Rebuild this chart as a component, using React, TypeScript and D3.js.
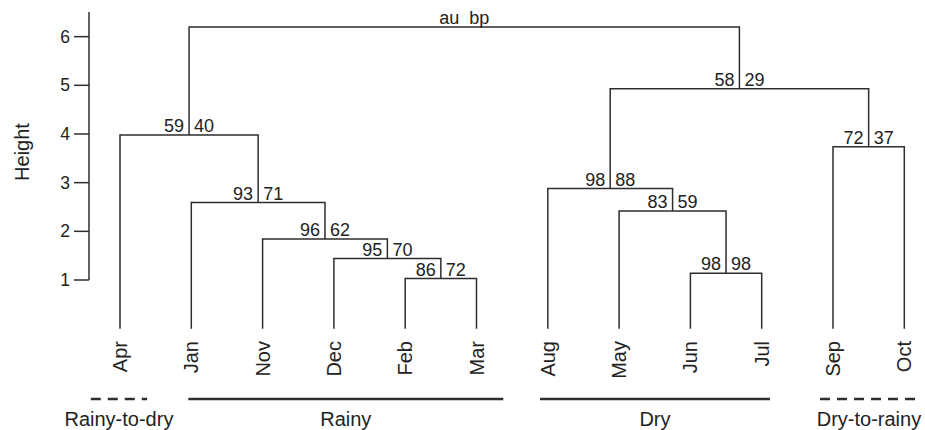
import React from "react";
import * as d3 from "d3";

// Leaves in dendrogram order
const leaves = ["Apr", "Jan", "Nov", "Dec", "Feb", "Mar", "Aug", "May", "Jun", "Jul", "Sep", "Oct"];

// hclust-style merges: negative = leaf (1-based), positive = earlier merge (1-based)
const mergeLeft = [-5, -9, -4, -3, -8, -2, -7, -11, -1, 7, 9];
const mergeRight = [-6, -10, 1, 3, 2, 4, 5, -12, 6, 8, 10];
const mergeHeight = [1.03, 1.14, 1.44, 1.84, 2.42, 2.59, 2.88, 3.74, 3.98, 4.93, 6.2];
const auValues = [86, 98, 95, 96, 83, 93, 98, 72, 59, 58, null];
const bpValues = [72, 98, 70, 62, 59, 71, 88, 37, 40, 29, null];

const yTicks = [1, 2, 3, 4, 5, 6];

// Season groups below the leaves (extent in leaf-index units)
const groupNames = ["Rainy-to-dry", "Rainy", "Dry", "Dry-to-rainy"];
const groupStart = [-0.41, 0.958, 5.89, 9.818];
const groupEnd = [0.38, 5.376, 9.116, 11.19];
const groupDashed = [true, false, false, true];

const FONT = "'Liberation Sans', Arial, Helvetica, sans-serif";
const LINE = "#2e2e2e";
const TEXT = "#222";

export default function App() {
  const W = 925;
  const H = 430;

  const x = d3.scalePoint<string>().domain(leaves).range([120, 904.3]);
  const xi = d3.scaleLinear().domain([0, leaves.length - 1]).range([120, 904.3]);
  const y = d3.scaleLinear().domain([1, 6]).range([280, 36.65]);

  // compute node positions
  const nodeX: number[] = [];
  const nodeY: number[] = [];
  const childPos = (c: number) => {
    if (c < 0) return { cx: x(leaves[-c - 1]) as number, cy: y(0) };
    return { cx: nodeX[c - 1], cy: nodeY[c - 1] };
  };
  const segs: string[] = [];
  mergeLeft.forEach((l, i) => {
    const a = childPos(l);
    const b = childPos(mergeRight[i]);
    const ny = y(mergeHeight[i]);
    nodeX.push((a.cx + b.cx) / 2);
    nodeY.push(ny);
    const p = d3.path();
    p.moveTo(a.cx, a.cy);
    p.lineTo(a.cx, ny);
    p.lineTo(b.cx, ny);
    p.lineTo(b.cx, b.cy);
    segs.push(p.toString());
  });

  const rootIdx = mergeLeft.length - 1;

  return (
    <svg
      width={W}
      height={H}
      style={{ position: "absolute", left: 0, top: 0, background: "#fff" }}
      fontFamily={FONT}
    >
      {/* Y axis */}
      <line x1={89} x2={89} y1={12} y2={y(1)} stroke={LINE} strokeWidth={1.5} />
      {yTicks.map((t) => (
        <g key={t}>
          <line x1={74} x2={89} y1={y(t)} y2={y(t)} stroke={LINE} strokeWidth={1.5} />
          <text
            x={70}
            y={y(t)}
            textAnchor="end"
            dominantBaseline="central"
            fontSize={17.5}
            fill={TEXT}
          >
            {t}
          </text>
        </g>
      ))}
      <text
        transform={`translate(22,152) rotate(-90)`}
        textAnchor="middle"
        dominantBaseline="central"
        fontSize={20}
        fill={TEXT}
      >
        Height
      </text>

      {/* tree */}
      {segs.map((d, i) => (
        <path key={i} d={d} fill="none" stroke={LINE} strokeWidth={1.5} />
      ))}

      {/* au / bp values */}
      {mergeLeft.map((_, i) => (
        <g key={"v" + i} fontSize={18} fill={TEXT}>
          <text x={nodeX[i] - 5} y={nodeY[i] - 3} textAnchor="end">
            {i === rootIdx ? "au" : auValues[i]}
          </text>
          <text x={nodeX[i] + 5} y={nodeY[i] - 3} textAnchor="start">
            {i === rootIdx ? "bp" : bpValues[i]}
          </text>
        </g>
      ))}

      {/* leaf labels */}
      {leaves.map((lf) => (
        <text
          key={lf}
          transform={`translate(${x(lf)},341) rotate(-90)`}
          textAnchor="end"
          dominantBaseline="central"
          fontSize={20}
          fill={TEXT}
        >
          {lf}
        </text>
      ))}

      {/* season groups */}
      {groupNames.map((g, i) => {
        const x0 = xi(groupStart[i]);
        const x1 = xi(groupEnd[i]);
        return (
          <g key={g}>
            <line
              x1={x0}
              x2={x1}
              y1={399}
              y2={399}
              stroke={LINE}
              strokeWidth={2.6}
              strokeDasharray={groupDashed[i] ? "10,7" : undefined}
            />
            <text x={(x0 + x1) / 2} y={426} textAnchor="middle" fontSize={20} fill={TEXT}>
              {g}
            </text>
          </g>
        );
      })}
    </svg>
  );
}
